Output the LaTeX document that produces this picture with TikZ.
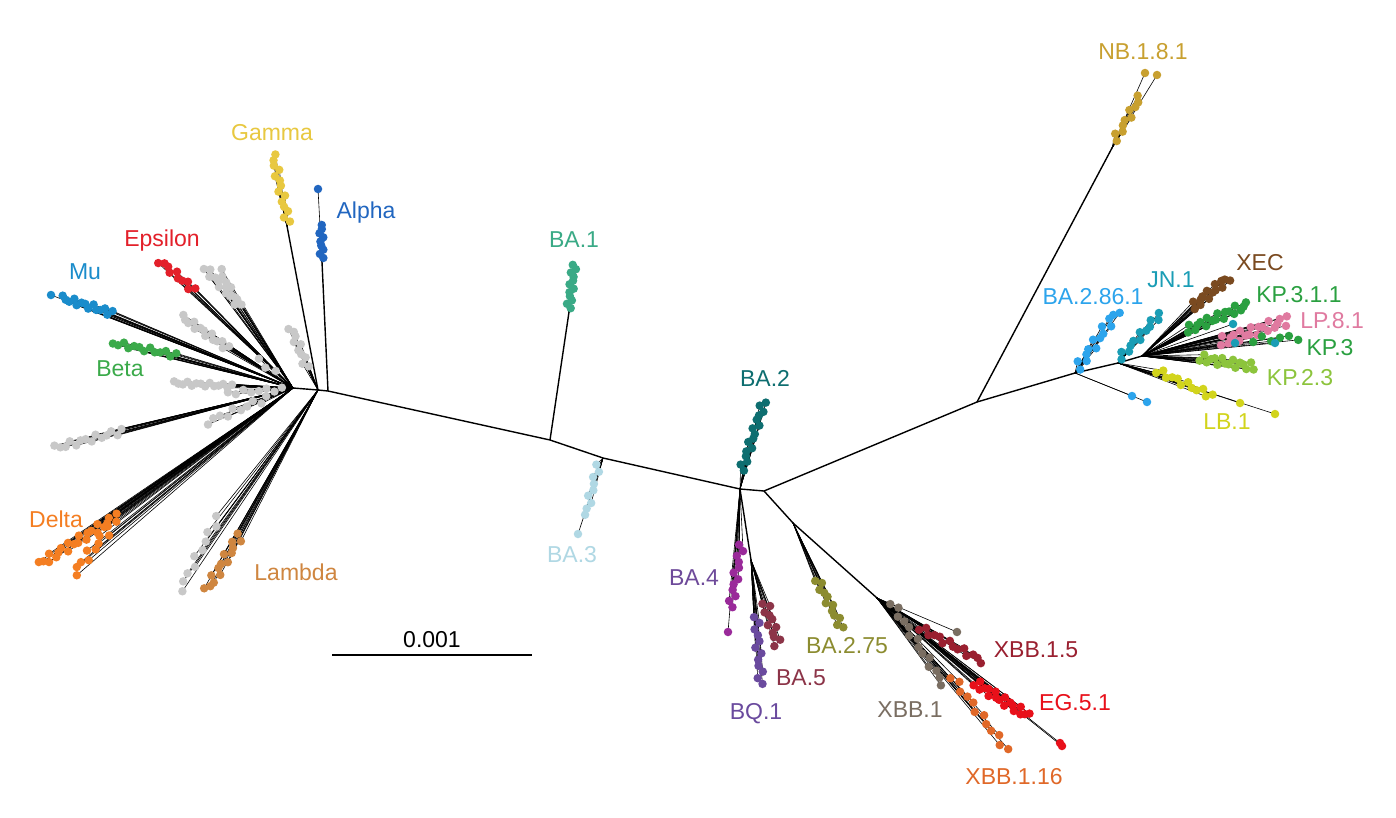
\documentclass[tikz,border=0pt]{standalone}
\usepackage{fontspec}
\setmainfont{Liberation Sans}
\usepackage{tikz}
\usetikzlibrary{calc}

\definecolor{gammac}{HTML}{E8C840}
\definecolor{alphac}{HTML}{2166C0}
\definecolor{epsc}{HTML}{E3202A}
\definecolor{muc}{HTML}{1A8CCB}
\definecolor{betac}{HTML}{3BAA4A}
\definecolor{deltac}{HTML}{F47E22}
\definecolor{lambdac}{HTML}{CF8640}
\definecolor{grayc}{HTML}{C8C8C8}
\definecolor{baonec}{HTML}{3AAA86}
\definecolor{bathreec}{HTML}{B0D8E4}
\definecolor{batwoc}{HTML}{0E6E70}
\definecolor{bafourc}{HTML}{9A2A9A}
\definecolor{bafourl}{HTML}{6E4A9A}
\definecolor{bafivec}{HTML}{8C3448}
\definecolor{bqonec}{HTML}{6A4A9E}
\definecolor{basevc}{HTML}{8C8C30}
\definecolor{xbbonec}{HTML}{7A6E62}
\definecolor{xbbfivec}{HTML}{9A2030}
\definecolor{egc}{HTML}{E8101A}
\definecolor{xbbsixc}{HTML}{E06828}
\definecolor{nbc}{HTML}{C8A030}
\definecolor{baeightc}{HTML}{2CA4EC}
\definecolor{jnc}{HTML}{1A9DB5}
\definecolor{xecc}{HTML}{7A4A20}
\definecolor{kpc}{HTML}{2AA040}
\definecolor{lpc}{HTML}{E07AA0}
\definecolor{kptwoc}{HTML}{8CC43C}
\definecolor{lbc}{HTML}{D2D41C}

% clades are remembered so that their dots go on top of all lines
\def\cladelist{}
\newcommand\addclade[1]{\ifx\cladelist\empty\xdef\cladelist{#1}\else\xdef\cladelist{\cladelist,#1}\fi}

% #1 name, #2 colour, #3 parent, #4/#5 near end, #6/#7 far end, #8 count, #9 spread
\newcommand\clade[9]{%
  \foreach \i in {1,...,#8}{
    \pgfmathsetmacro\t{(\i-1)/max(#8-1,1)}
    \pgfmathsetmacro\j{#9*sin(\i*137.5)}
    \pgfmathsetmacro\len{max(veclen(#6-#4,#7-#5),1)}
    \pgfmathsetmacro\px{#4+\t*(#6-#4)-\j*(#7-#5)/\len}
    \pgfmathsetmacro\py{#5+\t*(#7-#5)+\j*(#6-#4)/\len}
    \coordinate (#1-\i) at (\px,\py);
    \draw[twig] (#3) -- (#1-\i);
  }
  \addclade{#1/#2/#8}
}

\begin{document}
\begin{tikzpicture}[x=1pt, y=-1pt,
  branch/.style={line width=1.4pt, black},
  twig/.style={line width=0.6pt, black},
  leaf/.style={circle, fill=#1, draw=none, inner sep=0pt, minimum size=8.5pt},
  lab/.style={text=#1, font=\fontsize{23}{26}\selectfont, inner sep=0pt}]
\path[use as bounding box, fill=white] (0,0) rectangle (1396,818);

% backbone
\coordinate (hubA) at (293,388);
\coordinate (hubB) at (318,390);
\coordinate (hubC) at (328,391);
\coordinate (gamN) at (287,226);
\coordinate (alpN) at (322,262);
\coordinate (ba1n) at (550,440);
\coordinate (ba1N) at (569,312);
\coordinate (ba3n) at (603,458);
\coordinate (midA) at (740,489);
\coordinate (ba45N) at (751,560);
\coordinate (midB) at (764,491);
\coordinate (ba275n) at (793,523);
\coordinate (xbbn) at (877,598);
\coordinate (rightn) at (977,402);
\coordinate (nbn) at (1112,148);
\coordinate (hubR) at (1075,373);
\coordinate (jnn) at (1118,363);
\coordinate (kpn) at (1142,356);

\draw[branch] (hubA) -- (hubB) -- (hubC) -- (ba1n) -- (ba3n) -- (midA) -- (midB) -- (rightn);
\draw[branch] (hubB) -- (gamN);
\draw[branch] (hubC) -- (alpN);
\draw[branch] (ba1n) -- (ba1N);
\draw[branch] (midA) -- (ba45N);
\draw[branch] (midB) -- (ba275n) -- (xbbn);
\draw[branch] (rightn) -- (nbn);
\draw[branch] (rightn) -- (hubR) -- (jnn) -- (kpn);

% pre-Omicron
\clade{mu}{muc}{hubA}{112}{313}{62}{298}{14}{3}
\clade{mut}{muc}{hubA}{51}{295}{51}{295}{1}{0}
\clade{eps}{epsc}{hubA}{194}{290}{160}{261}{10}{3}
\clade{gra}{grayc}{hubA}{240}{306}{205}{268}{12}{3}
\clade{grb}{grayc}{hubA}{236}{300}{220}{270}{6}{2}
\clade{grc}{grayc}{hubA}{228}{348}{182}{317}{14}{3}
\clade{grd}{grayc}{hubA}{275}{372}{258}{360}{3}{2}
\clade{beta}{betac}{hubA}{176}{355}{113}{343}{13}{2.5}
\clade{gre}{grayc}{hubA}{232}{386}{174}{383}{14}{2}
\clade{grf}{grayc}{hubA}{282}{389}{228}{393}{8}{2}
\clade{grg}{grayc}{hubB}{307}{367}{291}{328}{10}{3}
\clade{grh}{grayc}{hubA}{122}{431}{55}{448}{14}{3}
\clade{gri}{grayc}{hubA}{267}{398}{207}{422}{10}{3}
\clade{dela}{deltac}{hubA}{118}{516}{40}{564}{22}{4}
\clade{delb}{deltac}{hubA}{110}{528}{74}{573}{10}{4}
\clade{grj}{grayc}{hubB}{218}{517}{180}{590}{10}{3}
\clade{lam}{lambdac}{hubB}{240}{535}{207}{590}{14}{4}
\clade{gam}{gammac}{gamN}{288}{222}{273}{155}{14}{3}
\clade{alp}{alphac}{alpN}{322}{258}{321}{225}{9}{2}
\clade{alpt}{alphac}{alpN}{318}{189}{318}{189}{1}{0}

% early Omicron
\clade{baone}{baonec}{ba1N}{569}{308}{574}{265}{12}{2.5}
\clade{bathree}{bathreec}{ba3n}{598}{465}{586}{515}{9}{2.5}
\clade{bathreet}{bathreec}{ba3n}{578}{534}{578}{534}{1}{0}
\clade{batwo}{batwoc}{midA}{742}{470}{764}{402}{16}{3}
\clade{bafour}{bafourc}{midA}{741}{545}{731}{607}{12}{3}
\clade{bafourt}{bafourc}{midA}{728}{632}{728}{632}{1}{0}
\clade{bafive}{bafivec}{ba45N}{765}{603}{778}{645}{11}{4}
\clade{bqone}{bqonec}{ba45N}{756}{617}{761}{684}{12}{3}
\clade{basev}{basevc}{ba275n}{817}{580}{842}{628}{12}{3}

% XBB
\clade{xbbone}{xbbonec}{xbbn}{892}{603}{943}{684}{14}{3}
\clade{xbbonet}{xbbonec}{xbbn}{957}{632}{957}{632}{1}{0}
\clade{xbbfive}{xbbfivec}{xbbn}{920}{628}{982}{661}{14}{3}
\clade{eg}{egc}{xbbn}{975}{683}{1028}{716}{18}{4}
\clade{egt}{egc}{xbbn}{1060}{743}{1062}{746}{2}{0}
\clade{xbbsix}{xbbsixc}{xbbn}{952}{677}{1007}{750}{12}{3}

% BA.2.86 and later
\clade{nb}{nbc}{nbn}{1115}{140}{1140}{97}{10}{3}
\clade{nbt}{nbc}{nbn}{1145}{73}{1157}{75}{2}{0}
\clade{baeight}{baeightc}{hubR}{1078}{368}{1117}{311}{14}{4}
\clade{baeightt}{baeightc}{hubR}{1132}{396}{1147}{402}{2}{0}
\clade{jn}{jnc}{jnn}{1120}{358}{1160}{314}{12}{3}
\clade{xec}{xecc}{kpn}{1193}{307}{1228}{278}{14}{4}
\clade{kpthree}{kpc}{kpn}{1187}{330}{1247}{305}{18}{4}
\clade{lp}{lpc}{kpn}{1220}{342}{1288}{320}{20}{5}
\clade{kp}{kpc}{kpn}{1253}{340}{1298}{337}{6}{3}
\clade{jnx}{jnc}{kpn}{1235}{343}{1275}{343}{2}{0}
\clade{jny}{jnc}{kpn}{1233}{324}{1233}{324}{1}{0}
\clade{kptwo}{kptwoc}{kpn}{1200}{358}{1254}{367}{16}{4}
\clade{lb}{lbc}{jnn}{1157}{371}{1212}{396}{12}{3}
\clade{lbt}{lbc}{jnn}{1240}{403}{1275}{414}{2}{0}

% dots on top
\foreach \nm/\cl/\n in \cladelist
  \foreach \i in {1,...,\n}
    \node[leaf=\cl] (\nm-d\i) at (\nm-\i) {};

% labels
\node[lab=gammac] (lgam) at (272,133) {Gamma};
\node[lab=alphac] (lalp) at (366,213) {Alpha};
\node[lab=epsc] (leps) at (162,241) {Epsilon};
\node[lab=muc] (lmu) at (85,272) {Mu};
\node[lab=betac] (lbeta) at (120,369) {Beta};
\node[lab=deltac] (ldel) at (56,519) {Delta};
\node[lab=lambdac] (llam) at (296,572) {Lambda};
\node[lab=baonec] (lbaone) at (574,240) {BA.1};
\node[lab=bathreec] (lbathree) at (572,555) {BA.3};
\node[lab=batwoc] (lbatwo) at (765,378) {BA.2};
\node[lab=bafourl] (lbafour) at (694,578) {BA.4};
\node[lab=bafivec] (lbafive) at (801,678) {BA.5};
\node[lab=bqonec] (lbqone) at (756,714) {BQ.1};
\node[lab=basevc] (lbasev) at (847,646) {BA.2.75};
\node[lab=xbbonec] (lxbbone) at (910,710) {XBB.1};
\node[lab=xbbfivec] (lxbbfive) at (1036,650) {XBB.1.5};
\node[lab=egc] (leg) at (1075,703) {EG.5.1};
\node[lab=xbbsixc] (lxbbsix) at (1014,777) {XBB.1.16};
\node[lab=nbc] (lnb) at (1143,52) {NB.1.8.1};
\node[lab=baeightc] (lbaeight) at (1093,297) {BA.2.86.1};
\node[lab=jnc] (ljn) at (1171,280) {JN.1};
\node[lab=xecc] (lxec) at (1260,263) {XEC};
\node[lab=kpc] (lkpthree) at (1299,295) {KP.3.1.1};
\node[lab=lpc] (llp) at (1332,321) {LP.8.1};
\node[lab=kpc] (lkp) at (1330,348) {KP.3};
\node[lab=kptwoc] (lkptwo) at (1300,378) {KP.2.3};
\node[lab=lbc] (llb) at (1227,422) {LB.1};

% scale bar
\coordinate (sbl) at (332,655);
\coordinate (sbr) at (532,655);
\draw[branch] (sbl) -- (sbr);
\node[lab=black] (sblab) at (432,640) {0.001};
\end{tikzpicture}
\end{document}
